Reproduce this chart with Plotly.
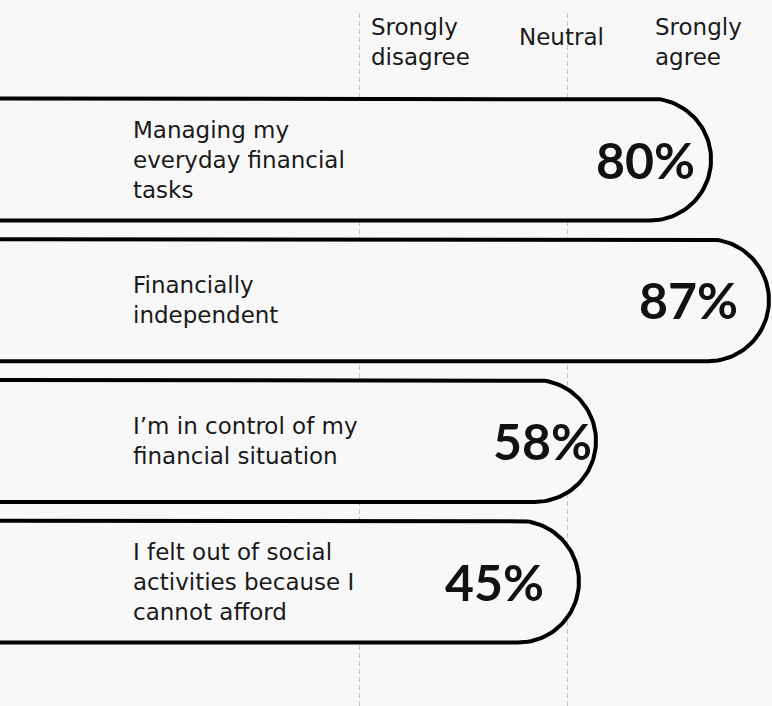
import numpy as np
import plotly.graph_objects as go

# ---------------- data ----------------
statements = [
    "Managing my<br>everyday financial<br>tasks",
    "Financially<br>independent",
    "I’m in control of my<br>financial situation",
    "I felt out of social<br>activities because I<br>cannot afford",
]
percent = [80, 87, 58, 45]
# length of each bar on the agreement scale (1 = strongly disagree, 3 = neutral, 5 = strongly agree)
bar_end = [4.385, 4.942, 3.279, 3.115]
scale_labels = ["Srongly<br>disagree", "Neutral", "Srongly<br>agree"]
grid_ticks = [1, 3]

# ---------------- layout helpers ----------------
W, H = 772, 706
TOP = 13
X_PX0, X_PPU = 359.0, 104.0      # pixel of scale value 1, pixels per scale unit
Y_PX0, Y_PPU = 159.5, 140.7      # pixel of first bar centre, pixels per bar
x_range = [1 - X_PX0 / X_PPU, 1 + (W - X_PX0) / X_PPU]
y_range = [(H - Y_PX0) / Y_PPU, (TOP - Y_PX0) / Y_PPU]


def xv(px):
    return 1 + (px - X_PX0) / X_PPU


def yv(px):
    return (px - Y_PX0) / Y_PPU


BG = "#f8f8f8"
LABEL_FONT = "DejaVu Sans"
PCT_FONT = "Lato"
radius_px = 61
rx = radius_px / X_PPU
ry = radius_px / Y_PPU
x_start = x_range[0] - 1.0

fig = go.Figure()

theta = np.linspace(np.pi / 2, -np.pi / 2, 60)
for i, end in enumerate(bar_end):
    cx = end - rx
    xs = [x_start, cx] + list(cx + rx * np.cos(theta)) + [cx, x_start, x_start]
    ys = [i - ry, i - ry] + list(i - ry * np.sin(theta)) + [i + ry, i + ry, i - ry]
    fig.add_trace(go.Scatter(
        x=xs, y=ys, mode="lines", fill="toself", fillcolor=BG,
        line=dict(color="#000000", width=4), hoverinfo="skip", showlegend=False,
    ))

label_x = xv(131)
pct_right_px = [697, 740, 594, 546]
for i, (s, p) in enumerate(zip(statements, percent)):
    fig.add_annotation(x=label_x, y=i, text=s, xanchor="left", yanchor="middle",
                       align="left", showarrow=False,
                       font=dict(family=LABEL_FONT, size=23, color="#1a1a1a"))
    fig.add_annotation(x=xv(pct_right_px[i]), y=i, text=f"<b>{p}%</b>", xanchor="right",
                       yanchor="middle", showarrow=False,
                       font=dict(family=PCT_FONT, size=50, color="#111111"))

header_pos = [(xv(369), "left"), (xv(561.5), "center"), (xv(653), "left")]
header_y = [yv(42), yv(37), yv(42)]
for (hx, anchor), hy, lab in zip(header_pos, header_y, scale_labels):
    fig.add_annotation(x=hx, y=hy, text=lab, xanchor=anchor, yanchor="middle",
                       align="left", showarrow=False,
                       font=dict(family=LABEL_FONT, size=23, color="#1a1a1a"))

fig.update_layout(
    width=W, height=H,
    margin=dict(l=0, r=0, t=TOP, b=0),
    paper_bgcolor=BG, plot_bgcolor=BG,
    showlegend=False,
    xaxis=dict(range=x_range, tickvals=grid_ticks, showticklabels=False, ticks="",
               showgrid=True, gridcolor="#c4c4c4", gridwidth=1, griddash="5px,3px",
               zeroline=False, showline=False, fixedrange=True),
    yaxis=dict(range=y_range, showticklabels=False, ticks="", showgrid=False,
               zeroline=False, showline=False, fixedrange=True),
)

fig.write_html("out.html")
